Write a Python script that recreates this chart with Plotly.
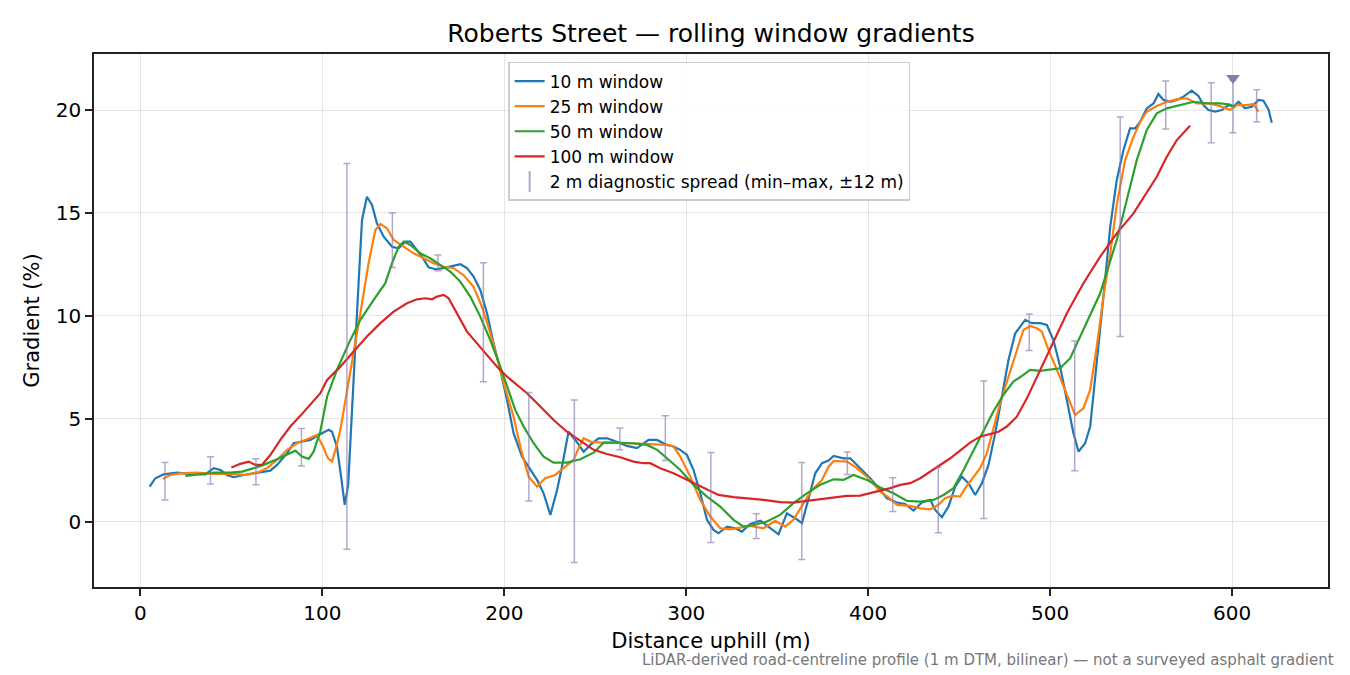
import plotly.graph_objects as go

# rolling window gradients (%)
x10 = [5.1, 8.2, 12.8, 20.1, 26.5, 32.0, 35.7, 40.3, 44.0, 47.6, 51.3, 56.8, 62.3, 67.7, 71.4, 75.1,
       80.6, 84.2, 88.8, 93.4, 98.0, 103.5, 105.3, 108.0, 110.3, 112.3, 114.2, 116.0, 117.8, 120.0,
       121.8, 124.5, 127.3, 130.0, 133.7, 138.3, 141.9, 145.6, 148.4, 151.1, 154.8, 158.4, 162.1,
       166.7, 172.1, 175.8, 179.5, 183.1, 186.8, 190.5, 194.1, 197.8, 201.5, 205.1, 209.7, 214.0,
       218.0, 221.6, 225.3, 229.0, 231.7, 235.3, 239.0, 243.6, 247.3, 251.8, 256.4, 260.0, 267.4,
       272.9, 279.3, 283.9, 289.4, 293.0, 296.7, 300.4, 304.0, 307.7, 311.4, 315.0, 317.7, 322.4,
       326.9, 330.6, 335.2, 340.7, 346.2, 350.7, 355.3, 359.9, 363.6, 367.2, 370.9, 374.6, 378.2,
       381.0, 386.4, 390.1, 395.6, 401.1, 406.6, 410.3, 415.8, 420.3, 424.9, 429.5, 434.1, 436.8,
       440.5, 444.1, 447.8, 451.5, 455.1, 458.8, 462.5, 466.1, 469.8, 473.5, 477.1, 480.8, 484.5,
       486.3, 489.9, 494.5, 498.2, 501.8, 505.5, 509.2, 512.8, 515.6, 519.2, 522.0, 524.7, 527.5,
       530.2, 533.0, 536.6, 540.3, 543.9, 546.7, 549.5, 553.1, 556.8, 559.5, 562.3, 566.0, 569.6,
       573.3, 577.8, 581.5, 584.2, 587.0, 590.7, 594.3, 598.0, 600.7, 603.5, 607.1, 610.8, 614.5,
       617.2, 620.0, 621.8]
g10 = [1.71, 2.12, 2.31, 2.39, 2.33, 2.33, 2.31, 2.61, 2.52, 2.28, 2.17, 2.28, 2.36, 2.44, 2.49, 2.77,
       3.33, 3.82, 3.90, 3.98, 4.22, 4.47, 4.38, 3.66, 2.2, 0.83, 1.8, 5.0, 8.5, 11.75,
       14.66, 15.79, 15.39, 14.5, 13.85, 13.36, 13.29, 13.61, 13.61, 13.29, 12.88, 12.36, 12.27,
       12.32, 12.43, 12.52, 12.32, 11.91, 11.26, 10.13, 8.67, 7.38, 5.92, 4.31, 3.17, 2.6,
       2.04, 1.39, 0.34, 1.55, 2.68, 4.38, 3.98, 3.41, 3.74, 4.06, 4.06, 3.95, 3.69,
       3.58, 3.98, 3.98, 3.74, 3.66, 3.50, 3.25, 2.52, 1.39, 0.10, -0.39, -0.55, -0.23,
       -0.31, -0.47, -0.10, 0.06, -0.31, -0.60, 0.42, 0.18, -0.06, 1.07, 2.36, 2.85, 2.98,
       3.20, 3.09, 3.09, 2.61, 2.12, 1.55, 1.15, 0.94, 0.87, 0.55, 0.94, 1.07, 0.58,
       0.23, 0.74, 1.71, 2.20, 1.88, 1.31, 1.88, 2.77, 4.31, 6.08, 7.86, 9.16, 9.56,
       9.81, 9.65, 9.65, 9.56, 8.83, 7.54, 5.92, 4.31, 3.41, 3.82, 4.63, 6.89, 9.32,
       11.75, 14.33, 16.60, 18.06, 19.11, 19.11, 19.43, 20.08, 20.32, 20.78, 20.49, 20.40, 20.49,
       20.65, 20.94, 20.68, 20.24, 20.00, 19.92, 20.00, 20.24, 20.16, 20.40, 20.08, 20.16, 20.49,
       20.45, 20.03, 19.38]

x25 = [12.3, 16.5, 22.0, 31.1, 40.3, 49.5, 57.7, 64.1, 69.6, 75.1, 80.6, 86.1, 91.6, 97.1, 100.4,
       103.0, 105.3, 107.5, 109.9, 115.4, 120.9, 125.4, 129.1, 131.9, 135.5, 139.2, 144.7, 150.2,
       155.7, 161.2, 166.7, 172.1, 177.6, 183.1, 187.7, 192.3, 196.9, 200.5, 205.1, 209.2, 213.4,
       218.0, 222.5, 228.0, 233.5, 238.1, 240.8, 243.6, 247.3, 252.7, 260.0, 267.4, 274.7, 282.0,
       289.4, 293.0, 296.7, 302.2, 307.7, 313.2, 318.7, 324.2, 329.7, 335.2, 342.5, 348.9, 354.4,
       358.9, 364.5, 369.1, 374.6, 378.2, 381.0, 388.3, 393.8, 400.2, 406.6, 411.0, 415.8, 423.1,
       428.6, 434.1, 438.6, 442.3, 446.0, 450.5, 453.3, 457.9, 461.5, 465.2, 468.8, 472.5, 477.1,
       481.7, 485.3, 489.0, 492.7, 495.4, 499.1, 503.7, 509.2, 513.7, 518.3, 522.0, 525.6, 529.3,
       533.0, 536.6, 541.2, 545.8, 549.5, 553.1, 558.6, 564.1, 569.6, 575.1, 580.6, 587.9, 593.4,
       598.9, 602.6, 608.1, 611.7, 614.5]
g25 = [2.09, 2.28, 2.36, 2.39, 2.33, 2.33, 2.28, 2.39, 2.61, 3.01, 3.50, 3.82, 4.01, 4.22, 3.66,
       3.1, 2.93, 3.6, 4.47, 7.22, 10.13, 12.56, 14.17, 14.47, 14.26, 13.69, 13.36, 13.04,
       12.80, 12.56, 12.39, 12.32, 11.99, 11.42, 10.45, 9.16, 7.70, 6.49, 5.11, 3.5, 2.20,
       1.71, 2.12, 2.28, 2.68, 3.01, 3.58, 4.06, 3.90, 3.85, 3.85, 3.82, 3.77, 3.77,
       3.74, 3.66, 3.17, 2.20, 1.07, 0.26, -0.31, -0.36, -0.26, -0.19, -0.31, 0.05, -0.23,
       0.10, 0.91, 1.55, 2.04, 2.68, 2.96, 2.93, 2.61, 2.12, 1.47, 1.2, 0.83, 0.78,
       0.66, 0.61, 0.83, 1.15, 1.26, 1.23, 1.64, 2.20, 2.61, 3.33, 4.47, 5.76, 7.05,
       8.35, 9.32, 9.51, 9.40, 9.24, 8.35, 7.38, 6.17, 5.19, 5.52, 6.41, 8.51, 10.94,
       13.0, 15.4, 17.57, 18.70, 19.43, 19.92, 20.19, 20.40, 20.52, 20.57, 20.32, 20.32, 20.19,
       20.00, 20.24, 20.24, 20.29, 19.92]

x50 = [24.7, 31.1, 40.3, 49.5, 55.9, 62.3, 67.7, 75.1, 81.5, 85.2, 88.8, 92.5, 95.2, 98.9, 102.6,
       108.0, 114.5, 120.9, 128.2, 134.6, 138.3, 141.9, 144.7, 148.4, 153.8, 159.3, 164.8, 170.3,
       175.8, 181.3, 186.8, 192.3, 197.8, 202.4, 206.0, 210.6, 216.1, 221.6, 227.1, 234.4, 241.8,
       249.1, 254.6, 260.0, 271.0, 278.4, 284.0, 289.4, 296.7, 304.0, 311.4, 318.7, 326.0, 331.5,
       337.0, 344.3, 351.6, 358.9, 366.3, 373.6, 381.0, 386.4, 391.9, 399.3, 406.6, 413.9, 421.3,
       428.6, 435.9, 441.4, 446.9, 452.4, 457.9, 463.4, 468.8, 474.3, 479.8, 485.3, 489.0, 494.5,
       500.0, 505.5, 511.0, 516.5, 522.0, 527.5, 536.6, 542.1, 547.6, 553.1, 558.6, 564.1, 571.4,
       578.8, 586.1, 593.4, 598.9, 601.6]
g50 = [2.23, 2.31, 2.39, 2.39, 2.44, 2.61, 2.77, 3.04, 3.30, 3.46, 3.17, 3.06, 3.41, 4.4, 6.08,
       7.38, 8.67, 9.81, 10.78, 11.59, 12.56, 13.36, 13.61, 13.45, 13.04, 12.80, 12.48, 12.15,
       11.67, 10.94, 9.97, 8.83, 7.54, 6.41, 5.44, 4.63, 3.82, 3.17, 2.88, 2.88, 3.04,
       3.36, 3.85, 3.85, 3.82, 3.74, 3.50, 3.09, 2.52, 1.80, 1.23, 0.74, 0.10, -0.23,
       -0.15, 0.02, 0.34, 0.91, 1.39, 1.80, 2.07, 2.04, 2.28, 2.04, 1.67, 1.39, 1.02,
       0.99, 1.07, 1.31, 1.64, 2.52, 3.50, 4.47, 5.36, 6.17, 6.81, 7.14, 7.38, 7.33,
       7.38, 7.46, 7.95, 9.00, 10.13, 11.1, 13.69, 15.63, 17.57, 19.03, 19.84, 20.08, 20.24,
       20.40, 20.32, 20.32, 20.27, 20.16]

x100 = [50.0, 54.9, 59.5, 63.2, 66.8, 71.4, 76.9, 82.4, 87.9, 93.4, 98.9, 102.6, 109.9, 117.2, 124.5,
        131.9, 139.2, 146.5, 152.0, 156.6, 160.3, 163.0, 166.7, 169.4, 174.0, 179.5, 185.0, 190.5,
        196.0, 201.5, 206.0, 212.5, 219.8, 227.1, 234.4, 241.8, 249.1, 256.4, 263.7, 271.0, 276.5,
        280.2, 285.7, 293.0, 296.7, 304.0, 311.4, 317.7, 326.0, 333.3, 342.5, 351.6, 358.9, 366.3,
        373.6, 381.0, 388.3, 395.6, 401.1, 406.6, 412.1, 417.6, 423.1, 428.6, 434.1, 439.6, 445.1,
        450.5, 456.0, 461.5, 467.0, 471.6, 476.2, 481.7, 487.2, 492.7, 498.2, 503.7, 509.2, 514.7,
        518.3, 527.5, 536.6, 545.8, 553.1, 558.6, 564.1, 569.6, 576.9]
g100 = [2.64, 2.82, 2.93, 2.77, 2.77, 3.25, 3.98, 4.63, 5.15, 5.70, 6.25, 6.89, 7.54, 8.27, 9.00,
        9.65, 10.21, 10.62, 10.81, 10.86, 10.81, 10.94, 11.02, 10.86, 10.13, 9.24, 8.67, 8.11,
        7.54, 7.05, 6.72, 6.25, 5.60, 4.95, 4.38, 3.95, 3.50, 3.30, 3.14, 2.93, 2.85,
        2.85, 2.61, 2.36, 2.20, 1.88, 1.55, 1.31, 1.20, 1.15, 1.07, 0.96, 0.94, 1.02,
        1.10, 1.15, 1.26, 1.28, 1.39, 1.52, 1.64, 1.80, 1.88, 2.12, 2.44, 2.77, 3.09,
        3.46, 3.85, 4.14, 4.27, 4.38, 4.63, 5.11, 6.00, 7.05, 8.11, 9.16, 10.13, 11.02,
        11.59, 12.88, 14.01, 14.98, 15.96, 16.76, 17.73, 18.54, 19.24]

# 2 m diagnostic spread (min / max within +-12 m)
spread_x = [13.5, 38.5, 63.5, 88.5, 113.5, 138.5, 163.5, 188.5, 213.5, 238.5, 263.5, 288.5, 313.5,
            338.5, 363.5, 388.5, 413.5, 438.5, 463.5, 488.5, 513.5, 538.5, 563.5, 588.5, 600.5, 613.5]
spread_lo = [1.07, 1.84, 1.80, 2.72, -1.33, 12.35, 12.20, 6.81, 1.02, -1.97, 3.50, 2.98, -1.00,
             -0.81, -1.83, 2.30, 0.50, -0.52, 0.16, 8.32, 2.49, 9.00, 19.08, 18.41, 18.90, 19.43]
spread_hi = [2.88, 3.17, 3.07, 4.53, 17.40, 15.00, 12.96, 12.59, 6.28, 5.92, 4.56, 5.15, 3.37,
             0.40, 2.88, 3.40, 2.14, 2.64, 6.84, 10.10, 8.79, 19.66, 21.41, 21.33, 21.45, 20.98]

# steepest point marker
peak_x = [600.5]
peak_y = [21.55]

series = [
    ("10 m window", x10, g10, "#1f77b4"),
    ("25 m window", x25, g25, "#ff7f0e"),
    ("50 m window", x50, g50, "#2ca02c"),
    ("100 m window", x100, g100, "#d62728"),
]
spread_col = "rgba(140,120,180,0.65)"
FONT = "DejaVu Sans"

fig = go.Figure()
for name, xs, ys, col in series:
    fig.add_trace(go.Scatter(x=xs, y=ys, mode="lines", name=name, legendgroup=name,
                             line=dict(color=col, width=2.2)))

mid = [(a + b) / 2 for a, b in zip(spread_lo, spread_hi)]
half = [(b - a) / 2 for a, b in zip(spread_lo, spread_hi)]
fig.add_trace(go.Scatter(
    x=spread_x, y=mid, mode="markers", showlegend=False,
    marker=dict(size=1, opacity=0),
    error_y=dict(type="data", array=half, symmetric=True, color=spread_col,
                 thickness=1.5, width=3.5)))
# legend entry for the spread bars
fig.add_trace(go.Scatter(
    x=[None], y=[None], mode="markers", name="2 m diagnostic spread (min–max, ±12 m)",
    legendgroup="spread",
    marker=dict(symbol="line-ns", size=15, line=dict(color=spread_col, width=2))))

fig.add_trace(go.Scatter(x=peak_x, y=peak_y, mode="markers", showlegend=False,
                         marker=dict(symbol="triangle-down", size=12, color="#8a7aae")))

axis_common = dict(showline=True, linecolor="#222222", linewidth=1.6, mirror=True,
                   ticks="outside", ticklen=7, tickwidth=1.6, tickcolor="#222222",
                   showgrid=True, gridcolor="rgba(0,0,0,0.1)", gridwidth=1.2,
                   zeroline=False, tickfont=dict(family=FONT, size=20, color="black"))

fig.update_layout(
    width=1334, height=667,
    paper_bgcolor="white", plot_bgcolor="white",
    margin=dict(l=86, r=14, t=46, b=88),
    font=dict(family=FONT, color="black"),
    title=dict(text="Roberts Street — rolling window gradients", x=0.5, xref="paper",
               xanchor="center", y=1 - 25 / 667, yanchor="middle",
               font=dict(family=FONT, size=25, color="black")),
    xaxis=dict(range=[-25.5, 652.7], tickvals=[0, 100, 200, 300, 400, 500, 600],
               title=dict(text="Distance uphill (m)", font=dict(family=FONT, size=21), standoff=10),
               **axis_common),
    yaxis=dict(range=[-3.16, 22.72], tickvals=[0, 5, 10, 15, 20],
               title=dict(text="Gradient (%)", font=dict(family=FONT, size=21), standoff=10),
               **axis_common),
    legend=dict(x=0.4985, xanchor="center", y=0.985, yanchor="top",
                bgcolor="rgba(255,255,255,0.85)", bordercolor="#cccccc", borderwidth=1.5,
                font=dict(family=FONT, size=17), tracegroupgap=3, traceorder="normal"),
    annotations=[dict(
        text="LiDAR-derived road-centreline profile (1 m DTM, bilinear) — not a surveyed asphalt gradient",
        xref="paper", yref="paper", x=1.0065, y=-0.137, xanchor="right", yanchor="middle",
        showarrow=False, font=dict(family=FONT, size=15, color="#777777"))],
)

fig.write_html("out.html")
